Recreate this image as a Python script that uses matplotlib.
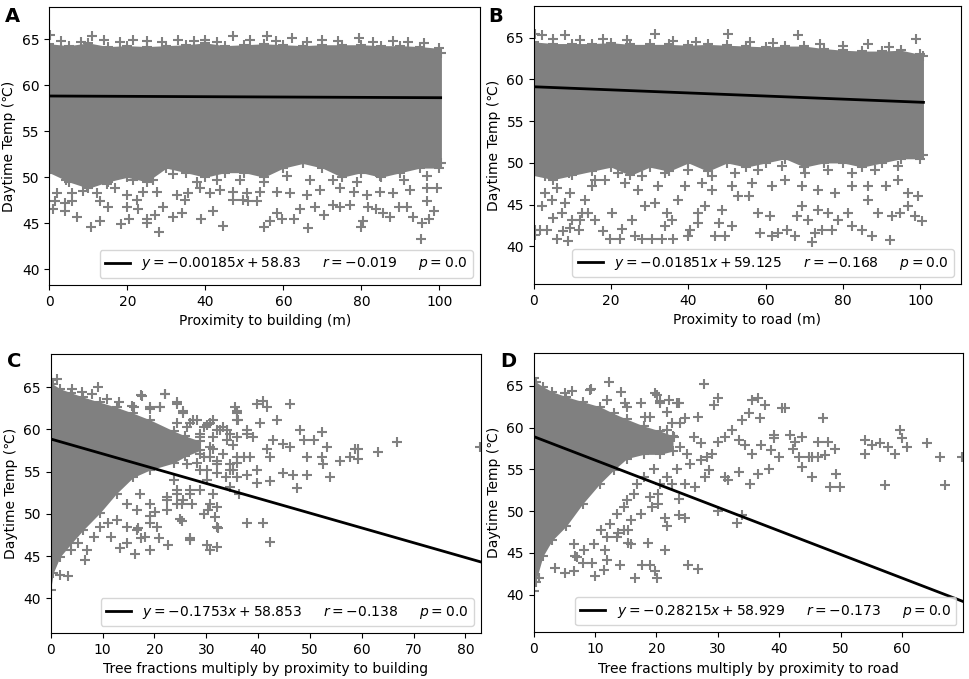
import numpy as np
import matplotlib.pyplot as plt

# ---- panel A : proximity to building ----
a_band_x = [0, 5, 10, 15, 20, 25, 30, 35, 40, 45, 50, 55, 60, 65, 70, 75, 80, 85, 90, 95, 100, 100.5]
a_band_lo = [50.5, 49.5, 48.8, 49.5, 50, 49.5, 51, 50.5, 50, 50.5, 50.5, 50, 51, 51.5, 51, 50, 50.5, 50, 50.5, 51, 51, 51.5]
a_band_hi = [64.5, 64.3, 64.6, 64.2, 64.3, 64.2, 64.3, 64.4, 64.6, 64.3, 64.4, 64.5, 64.4, 64.3, 64.4, 64.4, 64.4, 64.3, 64.3, 64.2, 64, 63.5]
a_pts_x = [1.0, 1.5, 4.0, 5.7, 7.2, 4.0, 10.6, 13, 13, 15.1, 18.3, 19.8, 20.5, 22.4, 22.8, 25, 25, 27.1, 28,
           29.2, 31.8, 33.9, 34.8, 38.8, 42, 44.6, 47.2, 49.7, 51, 53.2, 54.9, 56.6, 58.3, 59.6, 62.6, 64.3,
           66.4, 68.1, 70.3, 72.8, 74.5, 77.1, 80, 80.4, 81.7, 83.8, 85.6, 87.3, 89.5, 91.6, 93.3, 95.2, 95.5,
           97.2, 98.5, 96.8, 99.3,
           1.9, 5.7, 8.7, 12.1, 16.8, 19.8, 24.1, 27.5, 32.6, 35.6, 38.6, 41.2, 43.8, 47.2, 50.6, 54, 58.3,
           61.7, 66, 69.4, 74.5, 78, 81.4, 84.8, 88.2, 92.5, 96.8,
           4.4, 9.6, 14.7, 21.5, 26.7, 31.8, 37.8, 42.9, 48.9, 54.9, 60.9, 66.8, 72.8, 78.8, 84.8, 90.8, 96.8,
           0.2, 10.9, 47.2, 55.7, 79.4, 21.5, 39.9, 51.5, 62.1,
           3, 8, 14, 18, 25, 29, 33, 37, 43, 58, 66, 70, 74, 83, 88, 92, 96]
a_pts_y = [46.6, 47.4, 47.2, 47.4, 45.7, 46.3, 44.6, 45.2, 47.4, 46.8, 44.9, 46.8, 45.5, 47.5, 46.5, 45.5, 45, 45.9, 44.1,
           46.8, 45.7, 46.1, 47.5, 45.5, 46.3, 44.7, 47.5, 47.5, 47.4, 47.4, 44.6, 45.2, 46.1, 45.5, 45.5, 46.5,
           44.5, 46.8, 45.9, 47, 46.8, 47, 44.6, 45.2, 46.8, 46.5, 46.1, 45.7, 46.8, 46.8, 45.7, 43.3, 45,
           45.5, 46.3, 47.4, 48.8,
           48.3, 48.3, 48.5, 48.3, 48.8, 48.1, 48.4, 48.4, 48.1, 48.3, 48.8, 48.3, 48.6, 48.4, 48.3, 48.4, 48.4,
           48.3, 48.1, 48.6, 48.8, 48.4, 48.1, 48.4, 48.3, 48.6, 48.8,
           49.7, 49.2, 49.3, 49.7, 49.7, 50.4, 49.5, 49.7, 49.7, 49.5, 50.1, 49.7, 49.7, 49.5, 50.1, 49.7, 50.1,
           65.5, 65.3, 65.4, 65.3, 65.1, 64.9, 64.9, 64.9, 65.1,
           64.8, 64.7, 64.9, 64.7, 64.8, 64.7, 64.9, 64.8, 64.7, 64.8, 64.7, 64.9, 64.8, 64.7, 64.8, 64.7, 64.6]

# ---- panel B : proximity to road ----
b_band_x = [0, 5, 10, 15, 20, 25, 30, 35, 40, 45, 50, 55, 60, 65, 70, 75, 80, 85, 90, 95, 100, 100.8]
b_band_lo = [48.5, 48, 48.5, 49, 49.5, 48.5, 49.5, 49, 50, 49, 50, 49.5, 50, 50.5, 49.5, 50, 50, 49.5, 50, 50.5, 50.5, 51]
b_band_hi = [64.5, 64.3, 64.3, 64.3, 64.4, 64.2, 64.2, 64.2, 64.1, 64.2, 64.1, 64.0, 63.9, 64.0, 64.0, 63.7, 63.5, 63.4, 63.4, 63.5, 63.0, 62.8]
b_pts_x = [0.3, 1.6, 3.4, 0.3, 5.9, 8.8, 7.7, 9.4, 11.6, 5.1, 7.2, 9.8, 12, 12.4, 2.1, 4.7, 8.1, 2.9, 5.9, 9.4,
           13.3, 14.1, 15.9, 17.8, 19.7, 22.3, 22.8, 20.2, 25.3, 26.2, 27.9, 30.5, 33.1, 36.1, 34, 35.7, 28.8,
           31.4, 34.4, 37.4, 40, 40.4, 42.6, 42.6, 44.3, 46.9, 49.5, 51.2, 47.8, 48.6, 52.9, 55.6, 58.1, 58.5,
           61.1, 61.5, 63.3, 65.4, 67.6, 68, 69.3, 71, 71.9, 72.8, 74.5, 77.1, 73.6, 76.2, 78.8, 81.4, 82.2,
           84.8, 87.4, 86.5, 89.1, 92.2, 92.6, 94.8, 96.9, 98.6, 100.3, 96.9, 99.5,
           15, 18.4, 23.6, 27, 32.2, 39.1, 43.4, 46, 51.2, 56.4, 61.5, 65, 69.3, 73.6, 77.9, 82.2, 86.5, 91, 94.3,
           2.9, 9, 15.9, 21.9, 27.9, 34, 40, 46, 52.1, 58.1, 64.1, 70.2, 76.2, 82.2, 88.3, 94.3,
           0.3, 2.1, 8.1, 31.4, 50.3, 68.4, 86.5, 99,
           5, 12, 18, 24, 36, 42, 56, 62, 74, 80, 92]
b_pts_y = [42, 42, 42, 41.4, 40.9, 40.7, 41.8, 42.2, 42, 43.4, 44, 43.2, 43.2, 44, 44.8, 45.6, 45.2, 46.4, 47, 46.4,
           45.6, 44, 43.2, 41.8, 40.9, 40.9, 42.1, 44, 43.2, 41.2, 40.9, 40.9, 40.9, 40.9, 42.4, 43.2, 44.8,
           45.2, 44, 45.6, 41.2, 42, 42.8, 44, 44.8, 41.2, 41.2, 42.4, 42.8, 44.4, 46, 46, 44, 41.6,
           43.6, 41.2, 41.6, 42, 41.2, 43.6, 44.8, 43.2, 40.5, 41.6, 42, 42, 44.4, 44, 43.2, 44, 42.4,
           42, 41.2, 45.6, 44, 40.8, 43.6, 44, 44.8, 43.6, 43, 46.4, 46,
           47.2, 48, 47.6, 46.8, 47.2, 47.2, 47.6, 46.8, 47.2, 47.6, 47.2, 48, 47.2, 46.8, 46.4, 47.2, 47.2, 47.2, 48,
           48.4, 48.8, 48, 48.8, 48.4, 48.8, 49.2, 48.4, 48.8, 49.2, 49.6, 48.8, 49.2, 48.8, 49.2, 49.6,
           65.5, 65.3, 65.3, 65.5, 65.5, 65.3, 64.3, 64.8,
           64.8, 64.7, 64.9, 64.7, 64.6, 64.5, 64.5, 64.4, 64.3, 64.0, 63.9]

# ---- panel C : tree fraction x proximity to building ----
c_band_x = [0, 0.5, 1.8, 4, 6.3, 9.5, 12.7, 15.9, 19.2, 23.7, 26, 28.8]
c_band_lo = [41, 43, 44.9, 46.5, 48.1, 50.1, 52.4, 54.3, 55.2, 56, 56.8, 57.5]
c_band_hi = [65.8, 65.3, 64.8, 64.3, 63.8, 63.2, 62.6, 61.9, 61.1, 59.8, 59.2, 58.6]
c_pts_x = [1.3, 4.1, 6, 7.9, 9.2, 10.8, 13.1, 15.6, 17.6, 19.2, 22.1, 21.1, 24.3, 25.6, 27.5, 30.1, 31.4, 32.7,
           35.6, 35.9, 36.2, 37.8, 39.8, 41, 41.7, 43.6, 46.2, 40.4, 42.9, 39.1, 44.9, 46.2, 48.1, 48.8, 50.7,
           52.3, 53.2, 52.3, 52.6, 53.9, 55.8, 57.7, 58.7, 59.3, 59.3, 63.1, 66.8, 82.8, 47.5, 49.4, 49.4,
           46.8, 44.9, 42.3, 39.8, 39.8, 37.8, 35.2, 34.6, 36.4, 31.4, 30.1, 28.8, 27.2, 26.9, 25.3, 24.3, 22.4,
           30.7, 30.4, 32, 29.5, 31.7, 32, 32.3, 25, 25.3, 26.9, 26.9, 30.1, 30.7, 32, 37.8, 41, 42.3, 22.7,
           20.8, 19.2, 19.2, 16.3, 17.5, 16.9, 14.7, 13.4, 6.6, 1.8, 3.4, 20.1, 23.7, 26.2, 28.8, 31.4, 34,
           35.9, 35.2, 34.6, 32, 30.7, 28.8, 26.2, 28.8, 31.4, 34, 24.3, 26.2, 38.5, 42.3, 41.7,
           7.0, 9.5, 12.7, 14.7, 16.6, 17.2, 19.2, 19.2, 20.5, 22.4, 18.2, 16.6, 14.7, 11.6, 11, 8.4, 5.2, 3.9,
           24.3, 25.6, 26.9, 24.3, 22.4,
           24.3, 21.1, 25.6, 26.9, 28.2, 29.5, 30.7, 32, 33.3, 34.6, 35.9, 37.2, 35.9, 34.6, 33.3, 32, 30.7,
           29.5, 28.2, 26.9, 25.6, 28.8, 30.1, 32, 33.9, 35.9, 35.9, 35.9, 37.8, 22.1, 17.4, 19.2, 16]
c_pts_y = [65.9, 64.8, 64.4, 64.2, 65, 63.6, 63.2, 62.8, 63.9, 62.4, 64.2, 62.6, 63.2, 62.2, 61.1, 60.5, 61.1, 59.9,
           62.6, 61.9, 61.1, 59.9, 63, 63.4, 62.6, 61.1, 63, 60.7, 58.7, 59.1, 58.3, 57.9, 59.9, 58.7, 58.7,
           59.7, 57.9, 56.7, 55.9, 54.4, 56.3, 56.7, 57.7, 56.5, 57.7, 57.3, 58.5, 57.9, 53, 56.7, 54.6,
           54.6, 54.8, 53.9, 53.6, 55.2, 54.6, 55.2, 53.2, 52.4, 52.4, 54, 52.8, 51.2, 52.8, 51.2, 52.4, 51.6,
           51.2, 50.4, 50.8, 50, 49.6, 48.5, 48.3, 49.4, 49.1, 47.1, 46.9, 46.3, 45.7, 46.1, 48.9, 48.9, 46.7, 46.3,
           47.1, 45.7, 48.9, 45.3, 47.1, 48.3, 46.5, 45.9, 44.5, 42.8, 42.6, 50.2, 54, 55.9, 57.1, 57.7, 58.7,
           56.7, 58.1, 55.9, 55.9, 56.7, 55.2, 58.5, 59.5, 59.1, 59.9, 60.7, 60.3, 56.7, 56.7, 57.7,
           45.7, 48.5, 49.3, 51.2, 50.4, 52.4, 51.2, 49.7, 48.5, 52, 47.3, 48.1, 48.5, 47.3, 48.9, 47.3, 46.5, 45.7,
           52.8, 51.6, 52.4, 51.2, 50.4,
           63.0, 62.6, 61.9, 60.7, 61.1, 60.3, 60.7, 59.9, 60.3, 59.5, 59.1, 56.7, 56, 55.2, 57.1, 56.3, 57.9,
           56.7, 56, 58.3, 57.5, 59.1, 55.2, 54.8, 54.4, 54.4, 62.2, 61.1, 59.5, 64.2, 64.1, 62.6, 62.6]

# ---- panel D : tree fraction x proximity to road ----
d_band_x = [0, 0.3, 1.5, 3, 5.3, 8.0, 10.8, 13, 15.2, 17.9, 20.6, 22.7]
d_band_lo = [40.5, 41.5, 44.6, 46.5, 48.2, 50.9, 53.3, 54.9, 56.3, 56.8, 56.8, 57.2]
d_band_hi = [65.9, 65.5, 64.9, 64.3, 63.7, 63.1, 62.5, 61.7, 61.0, 60.2, 59.6, 59.0]
d_pts_x = [12.2, 27.7, 9.3, 14.2, 5.1, 6.3, 19.8, 20.6, 22, 23.6, 30.1, 29.3, 35.5, 36.6, 37.7, 40.4, 41, 47.2,
           36.9, 35, 33.9, 32.3, 31.2, 30.1, 29, 26.8, 24.7, 22.5, 18.2, 14.9, 33.4, 34.5, 35.5, 37.1, 38.7,
           39.2, 39.2, 39.9, 38.3, 36.6, 35.3, 33.4, 31.7, 31.2, 27.9, 28.5, 26.3, 24.7, 23.6, 22.5, 20.3, 20.3,
           19.2, 21.4, 21.7, 24.7, 23.6, 30.1, 33.9, 33.1, 21.4, 18.7, 17.6, 18.9, 19.8, 20.1, 16.5, 25.2, 26.8,
           15.4, 15.4, 13.8, 11.6, 11.9, 11.4, 10, 9.5, 14.1, 8.1, 6.7, 6.5, 5.1, 3.5, 0.8, 41.8, 42.6, 43.7,
           42.3, 43.2, 43.7, 45.3, 46.4, 46.4, 48, 47.5, 49.1, 49.3, 48.3, 49.9, 54, 54, 55.1, 56.4, 57.3, 57.8,
           58.9, 59.7, 60, 60.8, 64.1, 66.2, 67.1, 69.8, 44.8, 45.3,
           9.2, 12, 15.2, 17.4, 20.1, 20.6, 21.7, 23.3, 19, 17.4, 18.5, 20.1, 21.7, 22.8, 23.9, 23.9, 25, 26.1,
           27.2, 28.3, 27.2, 25.5, 23.3, 21.7, 20.6, 19.6, 17.9, 16.8, 16.3, 15.2, 14.7, 13.6, 12.5, 12, 10.9,
           9.8, 8.2, 7.1, 6.5, 15.8, 17.4, 19, 14.7, 13.6, 15.8]
d_pts_y = [65.5, 65.2, 64.6, 64.3, 64.1, 64.4, 64.1, 63.2, 63.3, 63, 63.5, 62.7, 63.3, 63.5, 62.7, 62.3, 62.3, 61.1,
           61.1, 61.7, 60.9, 59.7, 58.9, 58.3, 56.9, 61.3, 61.1, 60.5, 61.3, 62.9, 58.5, 57.9, 56.9, 57.9, 57.3,
           59.1, 58.7, 56.5, 55.1, 54.5, 53.3, 54.7, 53.7, 54.1, 54.1, 54.9, 52.9, 53.3, 51.5, 53.3, 52.1, 50.9,
           50.5, 49.2, 48.2, 49.2, 49.6, 50, 49.6, 48.6, 45.4, 46.2, 43.6, 43.6, 42.8, 42, 42, 43.6, 43.1,
           46.2, 47.8, 47.4, 45.4, 44.2, 43, 42.2, 43.8, 43.6, 43.8, 44.6, 42.8, 42.6, 43.2, 42, 59.1, 58.3, 58.9,
           57.5, 56.5, 55.3, 54.1, 56.5, 58.3, 58.3, 56.7, 57.5, 54.5, 52.9, 52.9, 58.5, 56.9, 57.9, 58.1, 53.1, 57.7,
           56.9, 59.7, 58.7, 57.7, 58.1, 56.5, 53.1, 56.5, 56.5, 56.5,
           64.5, 63.3, 62.5, 62.9, 63.9, 62.9, 61.9, 62.9, 61.3, 59.7, 58.9, 58.1, 59.7, 58.9, 60.5, 57.7, 56.9, 58.9,
           58.1, 56.5, 56.1, 55.7, 55, 54.1, 53.3, 55, 54.1, 53.3, 52.1, 51.3, 50.5, 49.7, 48.5, 46.9, 47.7,
           46.1, 45.3, 44.5, 46.1, 48.9, 49.7, 51.7, 47.7, 46.9, 46.1]

# fitted lines as printed in the legends
slopes = [-0.00185, -0.01851, -0.1753, -0.28215]
intercepts = [58.83, 59.125, 58.853, 58.929]
slope_txt = ['0.00185', '0.01851', '0.1753', '0.28215']
icpt_txt = ['58.83', '59.125', '58.853', '58.929']
r_txt = ['0.019', '0.168', '0.138', '0.173']
fit_xmax = [100.3, 100.8, 83.0, 70.0]

xlabels = ['Proximity to building (m)', 'Proximity to road (m)',
           'Tree fractions multiply by proximity to building',
           'Tree fractions multiply by proximity to road']
letters = ['A', 'B', 'C', 'D']
xlims = [(0, 110.4), (0, 110.5), (0, 83.0), (0, 70.0)]
ylims = [(38.3, 68.5), (35.5, 68.8), (35.9, 68.9), (35.5, 68.9)]
xticks = [np.arange(0, 101, 20), np.arange(0, 101, 20), np.arange(0, 81, 10), np.arange(0, 61, 10)]

bands = [(a_band_x, a_band_lo, a_band_hi), (b_band_x, b_band_lo, b_band_hi),
         (c_band_x, c_band_lo, c_band_hi), (d_band_x, d_band_lo, d_band_hi)]
points = [(a_pts_x, a_pts_y), (b_pts_x, b_pts_y), (c_pts_x, c_pts_y), (d_pts_x, d_pts_y)]

rects = [[0.0509, 0.5803, 0.4445, 0.4094],
         [0.5508, 0.5817, 0.4409, 0.4095],
         [0.0523, 0.0677, 0.4441, 0.4109],
         [0.5508, 0.0688, 0.4433, 0.4109]]
letter_pos = [(0.005, 0.975), (0.504, 0.975), (0.007, 0.468), (0.516, 0.468)]

fig = plt.figure(figsize=(9.69, 6.79), dpi=100)

for i in range(4):
    ax = fig.add_axes(rects[i])
    bx, blo, bhi = bands[i]
    ax.fill_between(bx, blo, bhi, color='gray', lw=0)
    ax.scatter(bx, blo, marker='+', color='gray', s=45, linewidths=1.5)
    ax.scatter(bx, bhi, marker='+', color='gray', s=45, linewidths=1.5)
    px, py = points[i]
    ax.scatter(px, py, marker='+', color='gray', s=45, linewidths=1.5)

    lx = np.array([0, fit_xmax[i]])
    label = (r'$y = -%sx + %s$' % (slope_txt[i], icpt_txt[i]) + '     ' +
             r'$r = -%s$' % r_txt[i] + '     ' + r'$p = 0.0$')
    ax.plot(lx, slopes[i] * lx + intercepts[i], color='black', lw=2, label=label)
    ax.legend(loc='lower right', fontsize=10, handlelength=1.8)

    ax.set_xlim(*xlims[i])
    ax.set_ylim(*ylims[i])
    ax.set_xticks(xticks[i])
    ax.set_yticks(np.arange(40, 66, 5))
    ax.tick_params(labelsize=10)
    ax.set_xlabel(xlabels[i], fontsize=10)
    ax.set_ylabel('Daytime Temp (℃)', fontsize=10)
    fig.text(letter_pos[i][0], letter_pos[i][1], letters[i], fontsize=14,
             fontweight='bold', va='center', ha='left')

fig.savefig('out.png', dpi=100)
